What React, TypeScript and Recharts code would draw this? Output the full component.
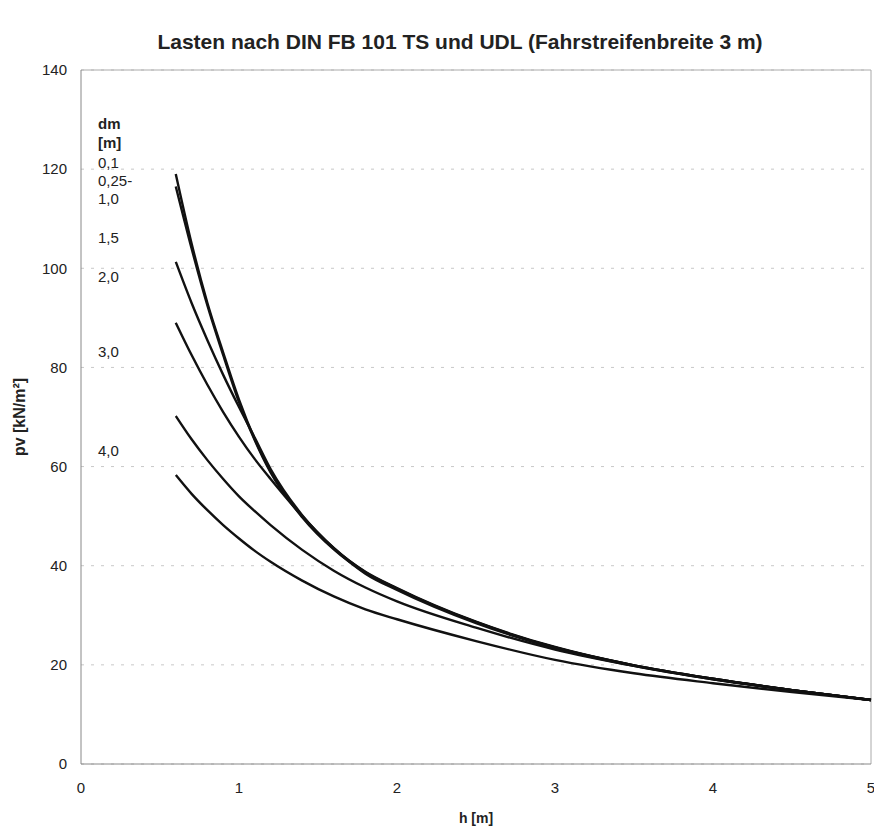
import React from "react";
import { LineChart, Line, XAxis, YAxis, CartesianGrid, ReferenceLine, Label } from "recharts";

const title = "Lasten nach DIN FB 101 TS und UDL (Fahrstreifenbreite 3 m)";
const xTicks = [0, 1, 2, 3, 4, 5];
const yTicks = [0, 20, 40, 60, 80, 100, 120, 140];
const hValues = [0.6, 0.7, 0.8, 0.9, 1.0, 1.1, 1.2, 1.4, 1.6, 1.8, 2.0, 2.5, 3.0, 3.5, 4.0, 4.5, 5.0];

const pv_01 = [119, 105, 93, 83, 73.5, 65.5, 59, 50, 43.5, 38.8, 35.5, 28.7, 23.6, 19.9, 17.2, 14.9, 12.9];
const pv_025_10 = [116.5, 104, 92.5, 82.5, 73, 65.3, 58.8, 49.8, 43.3, 38.6, 35.3, 28.6, 23.5, 19.9, 17.2, 14.9, 12.9];
const pv_15 = [101.3, 93, 85.5, 78.5, 72, 65.8, 59.5, 50.2, 43.6, 38.7, 35.4, 28.6, 23.5, 19.9, 17.2, 14.9, 12.9];
const pv_20 = [89, 82.5, 76.5, 71, 66, 61.5, 57.5, 50, 43.5, 38.4, 35.1, 28.4, 23.4, 19.8, 17.1, 14.9, 12.9];
const pv_30 = [70.2, 65.5, 61.3, 57.5, 54, 51, 48.2, 43.2, 39, 35.6, 32.8, 27.5, 23.1, 19.8, 17.1, 14.9, 12.9];
const pv_40 = [58.3, 54.5, 51.2, 48.2, 45.5, 43, 40.8, 37, 33.8, 31.2, 29.2, 24.8, 21, 18.3, 16.3, 14.5, 12.9];

const seriesList = [
  { key: "d01", values: pv_01 },
  { key: "d025", values: pv_025_10 },
  { key: "d15", values: pv_15 },
  { key: "d20", values: pv_20 },
  { key: "d30", values: pv_30 },
  { key: "d40", values: pv_40 },
];

const legendLabels = ["dm", "[m]", "0,1", "0,25-", "1,0", "1,5", "2,0", "3,0", "4,0"];
const legendTops = [124, 143, 163, 181, 199, 238, 277, 352, 451];

const font = "Arial, 'Liberation Sans', sans-serif";

export default function App() {
  return (
    <div
      style={{
        position: "absolute",
        left: 0,
        top: 0,
        width: 874,
        height: 832,
        overflow: "hidden",
        fontFamily: font,
        background: "#fff",
      }}
    >
      <div
        style={{
          position: "absolute",
          left: 0,
          width: 874,
          top: 29,
          textAlign: "center",
          fontSize: 21,
          lineHeight: "26px",
          fontWeight: "bold",
          color: "#222",
          paddingLeft: 46,
          boxSizing: "border-box",
        }}
      >
        {title}
      </div>
      <LineChart width={874} height={832} margin={{ top: 70, right: 3, bottom: 38, left: 21 }}>
        <CartesianGrid horizontal vertical={false} stroke="#c8c8c8" strokeDasharray="3 7" />
        <XAxis
          type="number"
          dataKey="h"
          domain={[0, 5]}
          ticks={xTicks}
          interval={0}
          allowDuplicatedCategory={false}
          tickLine={false}
          tickSize={0}
          tickMargin={18}
          height={30}
          stroke="#888"
          tick={{ fill: "#222", fontSize: 15, fontFamily: font }}
        >
          <Label value="h [m]" position="bottom" offset={19} style={{ fill: "#222", fontSize: 14, fontWeight: "bold", fontFamily: font }} />
        </XAxis>
        <YAxis
          type="number"
          domain={[0, 140]}
          ticks={yTicks}
          interval={0}
          tickLine={false}
          tickSize={0}
          tickMargin={14}
          width={60}
          stroke="#888"
          tick={{ fill: "#222", fontSize: 15, fontFamily: font }}
        >
          <Label value="pv [kN/m²]" angle={-90} position="insideLeft" offset={-2} style={{ fill: "#222", fontSize: 16, fontWeight: "bold", fontFamily: font, textAnchor: "middle" }} />
        </YAxis>
        <ReferenceLine y={140} stroke="#aaa" />
        <ReferenceLine x={5} stroke="#aaa" />
        {seriesList.map((s) => (
          <Line
            key={s.key}
            data={hValues.map((h, i) => ({ h, v: s.values[i] }))}
            dataKey="v"
            type="monotone"
            stroke="#111"
            strokeWidth={2.4}
            dot={false}
            isAnimationActive={false}
          />
        ))}
      </LineChart>
      {legendLabels.map((t, i) => (
        <div
          key={t}
          style={{
            position: "absolute",
            left: 98,
            top: legendTops[i] - 9,
            fontSize: 15,
            lineHeight: "18px",
            fontWeight: i < 2 ? "bold" : "normal",
            color: "#222",
          }}
        >
          {t}
        </div>
      ))}
    </div>
  );
}
